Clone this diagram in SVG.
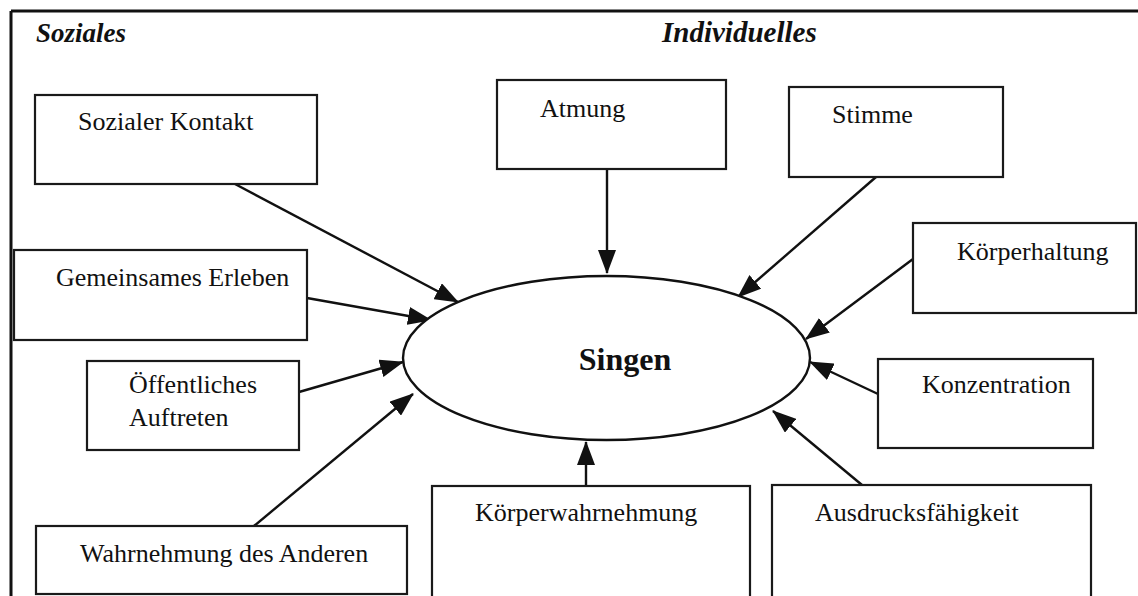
<svg xmlns="http://www.w3.org/2000/svg" width="1138" height="596" viewBox="0 0 1138 596">
<style>
.box{fill:#fff;stroke:#1a1a1a;stroke-width:2.2}
.lbl{font-family:"Liberation Serif","Times New Roman",serif;font-size:26px;fill:#111}
.head{font-family:"Liberation Serif","Times New Roman",serif;font-size:27px;font-weight:bold;font-style:italic;fill:#111}
.conn{stroke:#111;stroke-width:2.4;fill:none;marker-end:url(#ah)}
</style>
<defs>
<marker id="ah" markerUnits="userSpaceOnUse" markerWidth="24" markerHeight="18" viewBox="0 0 24 18" refX="23" refY="9" orient="auto">
<path d="M0,0 L24,9 L0,18 Z" fill="#111"/>
</marker>
</defs>
<rect width="1138" height="596" fill="#fff"/>
<g id="frame">
<line x1="11" y1="11" x2="1138" y2="11" stroke="#111" stroke-width="3"/>
<line x1="11" y1="11" x2="11" y2="596" stroke="#111" stroke-width="3"/>
</g>
<g id="headings">
<text class="head" x="36" y="42">Soziales</text>
<text class="head" x="662" y="42" style="font-size:29px">Individuelles</text>
</g>
<g id="connectors">
<line class="conn" x1="235" y1="184" x2="458" y2="302"/>
<line class="conn" x1="607" y1="169" x2="607" y2="273"/>
<line class="conn" x1="876" y1="177" x2="738" y2="297"/>
<line class="conn" x1="307" y1="298" x2="431" y2="320"/>
<line class="conn" x1="299" y1="392" x2="403" y2="362"/>
<line class="conn" x1="254" y1="526" x2="413" y2="394"/>
<line class="conn" x1="586" y1="486" x2="586" y2="442"/>
<line class="conn" x1="862" y1="485" x2="773" y2="411"/>
<line class="conn" x1="878" y1="394" x2="810" y2="362"/>
<line class="conn" x1="913" y1="259" x2="806" y2="339"/>
</g>
<g id="singen">
<ellipse cx="606.5" cy="358" rx="203.5" ry="82" fill="#fff" stroke="#111" stroke-width="2.4"/>
<text x="625" y="370" text-anchor="middle" font-family="'Liberation Serif','Times New Roman',serif" font-size="32" font-weight="bold" fill="#111">Singen</text>
</g>
<g id="sozialer-kontakt">
<rect class="box" x="35" y="95" width="282" height="89"/>
<text class="lbl" x="78" y="130">Sozialer Kontakt</text>
</g>
<g id="atmung">
<rect class="box" x="497" y="80" width="229" height="89"/>
<text class="lbl" x="540" y="117">Atmung</text>
</g>
<g id="stimme">
<rect class="box" x="789" y="87" width="214" height="90"/>
<text class="lbl" x="832" y="123">Stimme</text>
</g>
<g id="gemeinsames-erleben">
<rect class="box" x="14" y="250" width="293" height="90"/>
<text class="lbl" x="56" y="286">Gemeinsames Erleben</text>
</g>
<g id="oeffentliches-auftreten">
<rect class="box" x="87" y="361" width="212" height="89"/>
<text class="lbl" x="129" y="393">Öffentliches</text>
<text class="lbl" x="129" y="426">Auftreten</text>
</g>
<g id="wahrnehmung-des-anderen">
<rect class="box" x="36" y="526" width="371" height="68"/>
<text class="lbl" x="80" y="562">Wahrnehmung des Anderen</text>
</g>
<g id="koerperwahrnehmung">
<rect class="box" x="432" y="486" width="318" height="112"/>
<text class="lbl" x="475" y="521">Körperwahrnehmung</text>
</g>
<g id="ausdrucksfaehigkeit">
<rect class="box" x="772" y="485" width="319" height="113"/>
<text class="lbl" x="815" y="521">Ausdrucksfähigkeit</text>
</g>
<g id="koerperhaltung">
<rect class="box" x="913" y="223" width="223" height="90"/>
<text class="lbl" x="957" y="260">Körperhaltung</text>
</g>
<g id="konzentration">
<rect class="box" x="878" y="359" width="215" height="89"/>
<text class="lbl" x="922" y="393">Konzentration</text>
</g>
</svg>
